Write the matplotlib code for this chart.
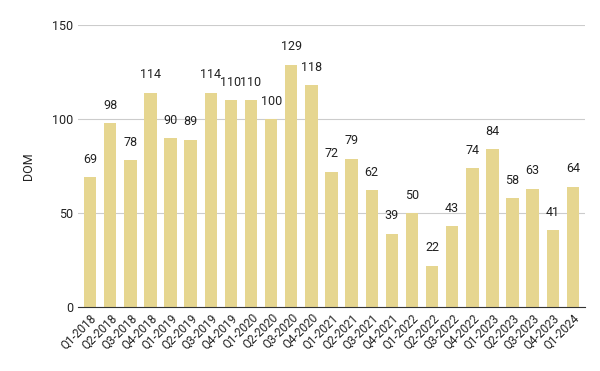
import matplotlib.pyplot as plt

# Данные
quarters = ['Q1-2018', 'Q2-2018', 'Q3-2018', 'Q4-2018', 'Q1-2019', 'Q2-2019', 'Q3-2019',
            'Q4-2019', 'Q1-2020', 'Q2-2020', 'Q3-2020', 'Q4-2020', 'Q1-2021', 'Q2-2021',
            'Q3-2021', 'Q4-2021', 'Q1-2022', 'Q2-2022', 'Q3-2022', 'Q4-2022', 'Q1-2023',
            'Q2-2023', 'Q3-2023', 'Q4-2023', 'Q1-2024']
dom = [69, 98, 78, 114, 90, 89, 114, 110, 110, 100, 129, 118, 72, 79,
       62, 39, 50, 22, 43, 74, 84, 58, 63, 41, 64]
y_ticks = [0, 50, 100, 150]

plt.rcParams['font.family'] = ['Roboto', 'DejaVu Sans']

fig = plt.figure(figsize=(6, 3.71), dpi=100)
ax = fig.add_axes([0.13, 0.1725, 0.845, 0.76])

x = range(len(quarters))
ax.bar(x, dom, width=0.62, color='#E6D690', zorder=2)
for i, v in zip(x, dom):
    ax.text(i, v + 6, str(v), ha='center', va='bottom', fontsize=9, color='#222222')

ax.set_xlim(-0.6, len(quarters) - 0.4)
ax.set_ylim(0, 150)
ax.set_yticks(y_ticks)
ax.set_xticks(list(x))
ax.set_xticklabels(quarters, rotation=45, ha='right', rotation_mode='anchor')
ax.tick_params(axis='both', length=0, colors='#222222', labelsize=9)
ax.tick_params(axis='x', pad=3, labelsize=8.5)
ax.grid(axis='y', color='#cccccc', linewidth=0.8, zorder=0)
for s in ['top', 'right', 'left']:
    ax.spines[s].set_visible(False)
ax.spines['bottom'].set_color('#333333')
ax.spines['bottom'].set_zorder(3)
ax.set_ylabel('DOM', fontsize=9, color='#222222', labelpad=12)

plt.savefig('out.png')
